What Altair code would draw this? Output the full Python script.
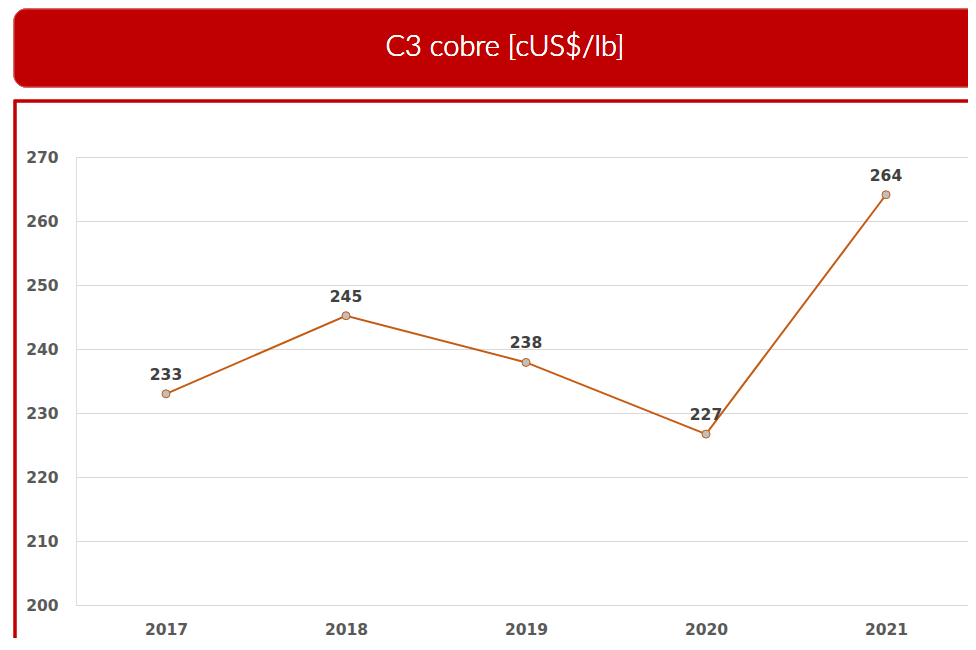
import altair as alt
import pandas as pd

years = ["2017", "2018", "2019", "2020", "2021"]
values = [233.0, 245.2, 237.9, 226.7, 264.1]
labels = ["233", "245", "238", "227", "264"]
title_text = "C3 cobre [cUS$/lb]"

df = pd.DataFrame({"year": years, "value": values, "label": labels})

RED = "#C00000"
LINE = "#C55A11"
W, H = 892, 448

x_enc = alt.X("year:N", sort=years, axis=alt.Axis(
    title=None, labelAngle=0, domain=False, ticks=False, grid=False,
    labelFont="DejaVu Sans", labelFontWeight="bold", labelFontSize=15.5,
    labelColor="#595959", labelPadding=17),
    scale=alt.Scale(paddingInner=0, paddingOuter=0, range=[0, 900]))
y_enc = alt.Y("value:Q", scale=alt.Scale(domain=[200, 270], nice=False, zero=False),
              axis=alt.Axis(title=None, values=list(range(200, 271, 10)), domain=False,
                            ticks=False, grid=True, gridColor="#D9D9D9", gridWidth=1,
                            labelFont="DejaVu Sans", labelFontWeight="bold", labelFontSize=15.5,
                            labelColor="#595959", labelPadding=18))

base = alt.Chart(df)

banner = base.mark_rect(fill=RED, stroke="#D86060", strokeWidth=1, cornerRadius=12, clip=False).encode(
    x=alt.value(-62), x2=alt.value(930), y=alt.value(-148), y2=alt.value(-70))
title = base.mark_text(text=title_text, color="white", font="Lato", fontWeight=300, fontSize=29,
                       align="center", baseline="middle", clip=False).encode(
    x=alt.value(429), y=alt.value(-110))
border = base.mark_rect(fill=None, stroke=RED, strokeWidth=2.5, clip=False).encode(
    x=alt.value(-61), x2=alt.value(940), y=alt.value(-56), y2=alt.value(520))

line = base.mark_line(color=LINE, strokeWidth=2).encode(x=x_enc, y=y_enc)
points = base.mark_circle(fill="#BFBFBF", stroke=LINE, strokeWidth=1,
                          size=64, opacity=1).encode(x=x_enc, y=y_enc)
text = base.mark_text(font="DejaVu Sans", fontWeight="bold", fontSize=15.5, color="#404040",
                      dy=-19).encode(x=x_enc, y=y_enc, text="label:N")

chart = alt.layer(banner, title, border, line, points, text).properties(
    width=W, height=H,
    autosize=alt.AutoSizeParams(type="none"),
    padding={"left": 68, "top": 149, "right": 0, "bottom": 33},
).configure_view(stroke=None).configure(background="white")

chart.save("out.html", embed_options={"renderer": "svg", "actions": False})
